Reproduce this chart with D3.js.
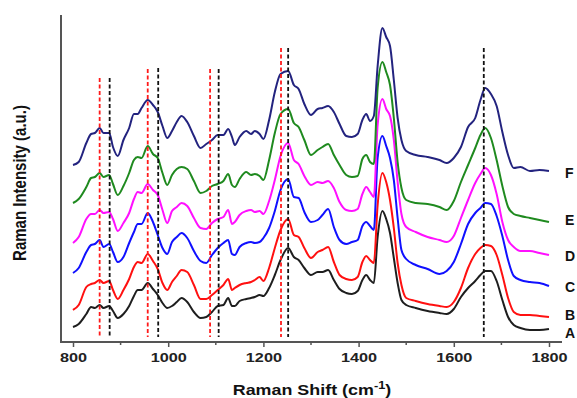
<!DOCTYPE html>
<html>
<head>
<meta charset="utf-8">
<script src="https://cdn.jsdelivr.net/npm/d3@7"></script>
<style>
  body { margin: 0; background: #fff; }
  svg { display: block; font-family: "Liberation Sans", Arial, sans-serif; }
</style>
</head>
<body>
<svg id="chart" width="577" height="398"></svg>
<script>
// Raman shift grid (cm-1)
const shift = [800, 812, 828, 838, 846, 856, 864, 876, 884, 894, 906, 918, 928, 936, 944, 957, 968, 978, 988, 998,
  1008, 1018, 1028, 1040, 1054, 1068, 1080, 1092, 1104, 1116, 1126, 1134, 1140, 1150, 1164, 1174, 1182, 1192, 1200,
  1212, 1224, 1236, 1252, 1264, 1274, 1286, 1300, 1314, 1324, 1336, 1348, 1360, 1374, 1386, 1398, 1408, 1416, 1424,
  1432, 1440, 1450, 1458, 1466, 1474, 1482, 1490, 1500, 1520, 1545, 1570, 1585, 1600, 1615, 1630, 1645, 1656, 1666,
  1678, 1690, 1702, 1714, 1726, 1740, 1760, 1780, 1800];

// intensities (a.u., stacked as plotted)
const specF = [176, 179, 198, 207, 208, 213, 208, 208, 194, 185, 201, 213, 227, 227, 233, 241, 236, 229, 215, 203,
  210, 219, 225, 219, 205, 193, 197, 201, 206, 206, 212, 204, 196, 204, 210, 207, 210, 207, 202,
  221, 249, 267, 270, 256, 252, 237, 226, 232, 233, 235, 229, 217, 205, 204, 207, 221, 227, 220,
  225, 275, 313, 304, 295, 261, 223, 201, 190, 186, 184, 181, 178, 183, 194, 214, 223, 241, 253,
  247, 235, 209, 186, 173, 174, 170, 171, 170];
const specE = [138, 142, 154, 163, 164, 168, 164, 166, 157, 146, 155, 168, 181, 184, 183, 195, 187, 183, 168, 156,
  166, 172, 174, 172, 160, 148, 150, 155, 157, 160, 167, 156, 154, 162, 169, 166, 167, 165, 161,
  181, 208, 227, 232, 218, 214, 201, 186, 191, 194, 197, 186, 176, 166, 164, 165, 182, 186, 179,
  177, 253, 279, 269, 256, 223, 179, 153, 141, 138, 137, 134, 131, 140, 159, 176, 193, 206, 213,
  203, 181, 155, 134, 127, 125, 123, 121, 119];
const specD = [98, 104, 122, 127, 127, 131, 128, 129, 122, 110, 118, 128, 142, 149, 148, 157, 151, 146, 131, 118,
  130, 134, 138, 135, 123, 113, 112, 118, 122, 124, 131, 117, 119, 126, 130, 131, 129, 130, 127,
  140, 161, 185, 198, 181, 177, 165, 156, 159, 158, 160, 153, 139, 131, 130, 132, 147, 154, 149,
  144, 216, 242, 232, 225, 201, 159, 127, 114, 109, 104, 101, 99, 105, 123, 141, 158, 167, 173,
  166, 147, 119, 101, 94, 90, 90, 88, 86];
const specC = [68, 73, 89, 96, 97, 101, 94, 97, 89, 79, 84, 98, 109, 117, 117, 128, 119, 106, 93, 87,
  99, 104, 108, 103, 90, 80, 78, 86, 93, 98, 101, 87, 86, 94, 98, 99, 98, 99, 103,
  113, 130, 151, 162, 144, 143, 129, 119, 121, 126, 132, 114, 101, 97, 99, 101, 115, 119, 115,
  111, 183, 205, 195, 183, 161, 123, 91, 82, 76, 72, 67, 70, 79, 97, 117, 128, 133, 138,
  137, 125, 105, 81, 65, 61, 59, 58, 55];
const specB = [31, 36, 54, 57, 58, 61, 58, 60, 51, 42, 51, 62, 74, 79, 78, 87, 80, 72, 58, 51,
  59, 65, 71, 69, 56, 42, 42, 46, 51, 56, 62, 51, 53, 56, 58, 59, 61, 64, 60,
  73, 93, 111, 122, 106, 104, 93, 83, 89, 91, 94, 79, 66, 62, 61, 64, 79, 85, 81,
  78, 136, 168, 159, 141, 113, 78, 56, 43, 40, 37, 35, 34, 39, 53, 73, 87, 93, 96,
  95, 86, 66, 43, 29, 26, 26, 25, 24];
const specA = [14, 17, 27, 34, 33, 36, 33, 35, 30, 23, 27, 35, 45, 51, 51, 58, 52, 46, 38, 33,
  35, 39, 43, 39, 29, 23, 24, 29, 35, 36, 43, 35, 35, 40, 42, 43, 44, 46, 45,
  53, 66, 81, 93, 84, 81, 73, 66, 69, 69, 71, 61, 52, 48, 47, 50, 61, 66, 61,
  58, 104, 130, 122, 108, 83, 58, 41, 36, 33, 30, 28, 27, 32, 44, 53, 60, 66, 70,
  70, 60, 41, 24, 16, 13, 11, 11, 12];

const seriesNames = ['A', 'B', 'C', 'D', 'E', 'F'];
const seriesData = [specA, specB, specC, specD, specE, specF];
const seriesColors = ['#1e1e1e', '#ff1010', '#1010ff', '#ff10ff', '#1f8a1f', '#23237f'];

// marker lines (cm-1) and how high they reach (a.u.)
const redMarks = [856, 957, 1088, 1237];
const redTops = [263, 272, 272, 293];
const blackMarks = [877, 979, 1106, 1252, 1663];
const blackTops = [263, 273, 272, 293, 293];

const xTicks = [800, 1000, 1200, 1400, 1600, 1800];
const xMinor = [900, 1100, 1300, 1500, 1700];

const svg = d3.select('#chart');
const x = d3.scaleLinear().domain([800, 1800]).range([73, 549]);
const y = d3.scaleLinear().domain([0, 326]).range([341, 15]);

// axes frame
svg.append('line')
  .attr('x1', 61).attr('x2', 61).attr('y1', 15).attr('y2', 342)
  .attr('stroke', '#555').attr('stroke-width', 2);
svg.append('line')
  .attr('x1', 60).attr('x2', 562).attr('y1', 342).attr('y2', 342)
  .attr('stroke', '#555').attr('stroke-width', 2);

const gx = svg.append('g').attr('transform', 'translate(0,342)');
gx.call(d3.axisBottom(x).tickValues(xTicks).tickSize(5).tickSizeOuter(0).tickFormat(d3.format('d')));
gx.select('.domain').remove();
gx.selectAll('.tick line').attr('stroke', '#555').attr('stroke-width', 1.5);
gx.selectAll('.tick text')
  .attr('y', 20)
  .attr('dy', 0)
  .attr('transform', 'scale(1.25,1)')
  .attr('fill', '#222')
  .style('font-size', '13px')
  .style('font-weight', 'bold')
  .style('font-family', '"Liberation Sans", Arial, sans-serif');

gx.selectAll('line.minor')
  .data(xMinor)
  .enter()
  .append('line')
  .attr('class', 'minor')
  .attr('x1', d => x(d)).attr('x2', d => x(d))
  .attr('y1', 0).attr('y2', 3)
  .attr('stroke', '#555').attr('stroke-width', 1.5);

// spectra
const line = d3.line()
  .x((d, i) => x(shift[i]))
  .y(d => y(d))
  .curve(d3.curveMonotoneX);

svg.selectAll('path.spec')
  .data(seriesData)
  .enter()
  .append('path')
  .attr('class', 'spec')
  .attr('d', d => line(d))
  .attr('fill', 'none')
  .attr('stroke', (d, i) => seriesColors[i])
  .attr('stroke-width', 2)
  .attr('stroke-linejoin', 'round');

// dashed markers
const marks = redMarks.map((m, i) => ({ pos: m, top: redTops[i], color: '#ff1a1a' }))
  .concat(blackMarks.map((m, i) => ({ pos: m, top: blackTops[i], color: '#111' })));

svg.selectAll('line.mark')
  .data(marks)
  .enter()
  .append('line')
  .attr('class', 'mark')
  .attr('x1', d => x(d.pos)).attr('x2', d => x(d.pos))
  .attr('y1', d => y(d.top)).attr('y2', y(4))
  .attr('stroke', d => d.color)
  .attr('stroke-width', 1.8)
  .attr('stroke-dasharray', '4,2.5');

// series labels at the right
const labelY = [333, 315, 287, 256, 220, 173];
svg.selectAll('text.lab')
  .data(seriesNames)
  .enter()
  .append('text')
  .attr('class', 'lab')
  .attr('x', 565)
  .attr('y', (d, i) => labelY[i] + 5)
  .attr('fill', '#111')
  .style('font-size', '14px')
  .style('font-weight', 'bold')
  .text(d => d);

// axis titles
const xt = svg.append('g')
  .attr('transform', 'translate(312,395) scale(1.28,1)')
  .append('text')
  .attr('text-anchor', 'middle')
  .attr('fill', '#111')
  .style('font-size', '14px')
  .style('font-weight', 'bold');
xt.append('tspan').text('Raman Shift (cm');
xt.append('tspan').attr('dy', -6).style('font-size', '10px').text('-1');
xt.append('tspan').attr('dy', 6).text(')');

svg.append('text')
  .attr('transform', 'translate(26,183) scale(1.25,1) rotate(-90)')
  .attr('text-anchor', 'middle')
  .attr('fill', '#111')
  .style('font-size', '15px')
  .style('font-weight', 'bold')
  .text('Raman Intensity (a.u.)');
</script>
</body>
</html>
